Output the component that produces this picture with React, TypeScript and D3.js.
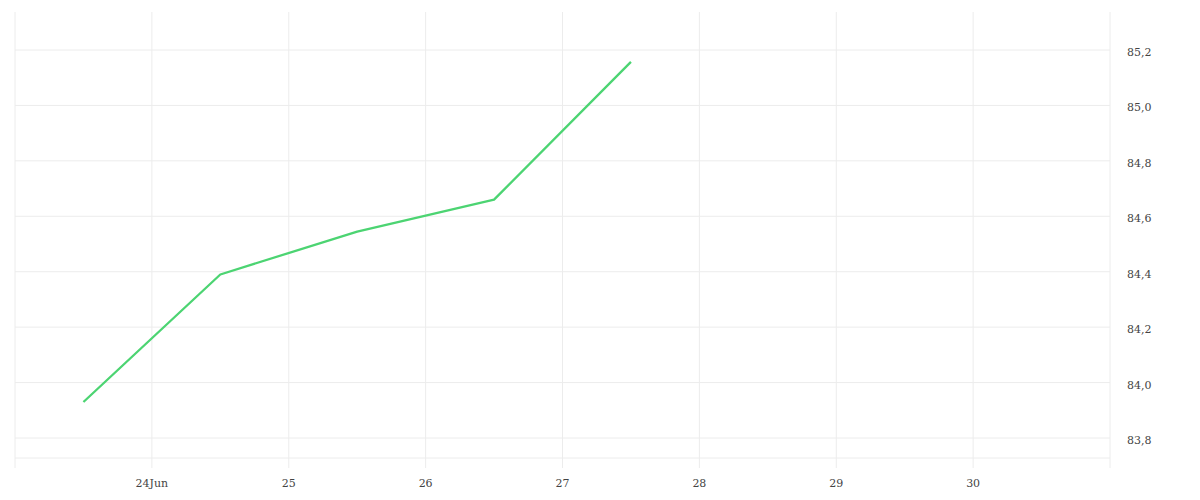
import React from "react";
import * as d3 from "d3";

const dates = ["2024-06-23T12:00", "2024-06-24T12:00", "2024-06-25T12:00", "2024-06-26T12:00", "2024-06-27T12:00"];
const values = [83.93, 84.39, 84.545, 84.66, 85.157];
const yTicks = [83.8, 84.0, 84.2, 84.4, 84.6, 84.8, 85.0, 85.2];
const xTickDates = ["2024-06-24", "2024-06-25", "2024-06-26", "2024-06-27", "2024-06-28", "2024-06-29", "2024-06-30"];
const xTickLabels = ["24Jun", "25", "26", "27", "28", "29", "30"];

const W = 1200, H = 500;
const left = 15, right = 1110, top = 12, bottom = 468;

export default function App() {
  const parse = (s: string) => new Date(s);
  const x = d3.scaleTime().domain([parse("2024-06-23T00:00"), parse("2024-07-01T00:00")]).range([left, right]);
  const y = d3.scaleLinear().domain([83.8, 85.2]).range([438, 50]);
  const line = d3.line<number>().x((_, i) => x(parse(dates[i]))).y((d) => y(d));
  const grid = "#ececec";
  const font = "'DejaVu Serif', serif";
  return (
    <svg width={W} height={H} style={{ position: "absolute", left: 0, top: 0, background: "#fff" }}>
      {[parse("2024-06-23T00:00"), ...xTickDates.map(parse), parse("2024-07-01T00:00")].map((d, i) => (
        <line key={"v" + i} x1={x(d)} x2={x(d)} y1={top} y2={bottom} stroke={grid} strokeWidth={1} />
      ))}
      {yTicks.map((t) => (
        <line key={"h" + t} x1={left} x2={right} y1={y(t)} y2={y(t)} stroke={grid} strokeWidth={1} />
      ))}
      <line x1={left} x2={right} y1={458} y2={458} stroke={grid} strokeWidth={1} />
      {yTicks.map((t) => (
        <text key={"yl" + t} x={1127} y={y(t) + 6} fontFamily={font} fontSize={11} fill="#444">
          {t.toFixed(1).replace(".", ",")}
        </text>
      ))}
      {xTickDates.map((d, i) => (
        <text key={"xl" + i} x={x(parse(d))} y={487} textAnchor="middle" fontFamily={font} fontSize={11} fill="#444">
          {xTickLabels[i]}
        </text>
      ))}
      <path d={line(values) || ""} fill="none" stroke="#4cd472" strokeWidth={2.3} strokeLinejoin="round" />
    </svg>
  );
}
